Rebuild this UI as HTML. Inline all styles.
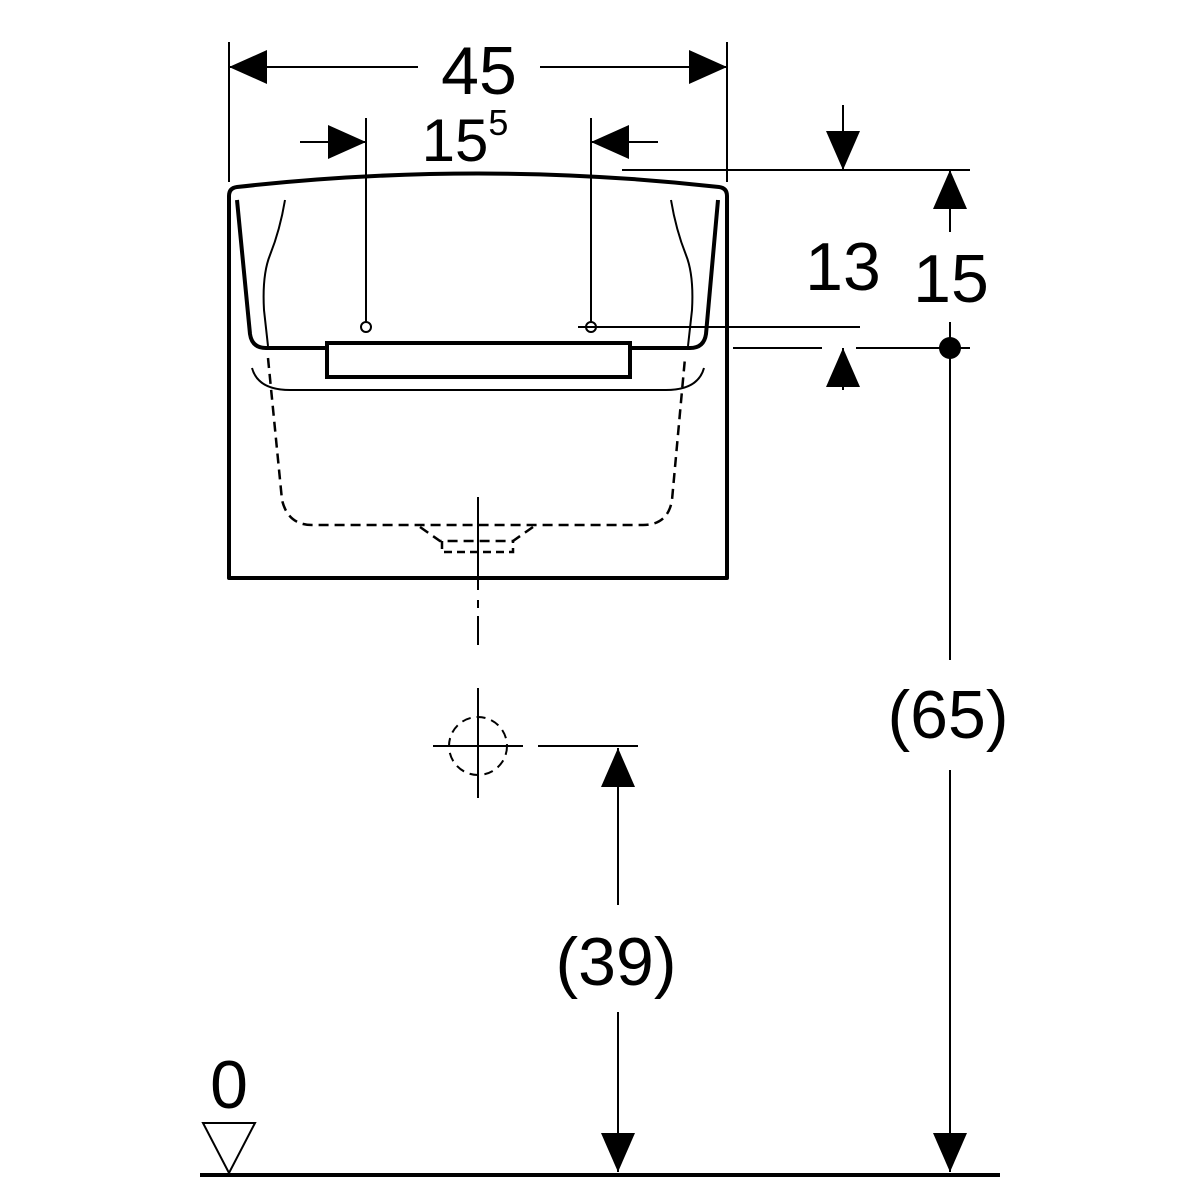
<!DOCTYPE html>
<html><head><meta charset="utf-8"><style>
html,body{margin:0;padding:0;background:#fff;}
svg{display:block;}
text{font-family:"Liberation Sans",sans-serif;fill:#000;}
</style></head><body>
<svg width="1200" height="1200" viewBox="0 0 1200 1200" xmlns="http://www.w3.org/2000/svg">
<g stroke="#000" fill="none" stroke-linecap="butt">
<!-- outer box -->
<path d="M229,578 L229,196 Q229,188 237,187 Q478,160 719,187 Q727,188 727,196 L727,578 Z" stroke-width="4" stroke-linejoin="round"/>
<!-- inner rim -->
<path d="M237,200 L250,334 Q252,348 266,348 L327,348" stroke-width="4"/>
<path d="M630,348 L690,348 Q704,348 706,334 L718,200" stroke-width="4"/>
<rect x="327" y="343" width="303" height="34" stroke-width="4"/>
<!-- thin curves -->
<path d="M285,200 Q280,230 270,255 Q262,275 264,310 L268,346" stroke-width="2"/>
<path d="M671,200 Q676,230 686,255 Q694,275 692,310 L688,346" stroke-width="2"/>
<path d="M252,368 Q258,390 290,390 L666,390 Q698,390 704,368" stroke-width="2"/>
<!-- dashed bowl -->
<path d="M268,358 L282,500 Q288,525 312,525 L643,525 Q668,525 672,500 L685,358" stroke-width="2.5" stroke-dasharray="10,6"/>
<path d="M420,527 L440,541 L513,541 L533,527" stroke-width="2.5" stroke-dasharray="10,6"/>
<path d="M442,541 L442,552 L513,552 L513,541" stroke-width="2.5" stroke-dasharray="8,5"/>
<!-- center line -->
<line x1="478" y1="497" x2="478" y2="590" stroke-width="2"/>
<line x1="478" y1="600" x2="478" y2="608" stroke-width="2"/>
<line x1="478" y1="616" x2="478" y2="645" stroke-width="2"/>
<line x1="478" y1="688" x2="478" y2="798" stroke-width="2"/>
<line x1="433" y1="746" x2="523" y2="746" stroke-width="2"/>
<circle cx="478" cy="746" r="29" stroke-width="2" stroke-dasharray="9,6"/>
<!-- holes -->
<circle cx="366" cy="327" r="5" stroke-width="2"/>
<circle cx="591" cy="327" r="5" stroke-width="2"/>
<line x1="366" y1="118" x2="366" y2="322" stroke-width="2"/>
<line x1="591" y1="118" x2="591" y2="322" stroke-width="2"/>
<!-- extension lines -->
<line x1="229" y1="42" x2="229" y2="182" stroke-width="2"/>
<line x1="727" y1="42" x2="727" y2="182" stroke-width="2"/>
<line x1="578" y1="327" x2="860" y2="327" stroke-width="2"/>
<line x1="733" y1="348" x2="822" y2="348" stroke-width="2"/>
<line x1="856" y1="348" x2="970" y2="348" stroke-width="2"/>
<line x1="622" y1="170" x2="970" y2="170" stroke-width="2"/>
<line x1="538" y1="746" x2="638" y2="746" stroke-width="2"/>
<!-- 45 dim -->
<line x1="229" y1="67" x2="418" y2="67" stroke-width="2"/>
<line x1="540" y1="67" x2="727" y2="67" stroke-width="2"/>
<!-- 15.5 -->
<line x1="300" y1="142" x2="366" y2="142" stroke-width="2"/>
<line x1="591" y1="142" x2="658" y2="142" stroke-width="2"/>
<!-- 13 -->
<line x1="843" y1="105" x2="843" y2="170" stroke-width="2"/>
<line x1="843" y1="348" x2="843" y2="390" stroke-width="2"/>
<!-- 15 / 65 -->
<line x1="950" y1="170" x2="950" y2="232" stroke-width="2"/>
<line x1="950" y1="322" x2="950" y2="660" stroke-width="2"/>
<line x1="950" y1="770" x2="950" y2="1172" stroke-width="2"/>
<!-- 39 -->
<line x1="618" y1="748" x2="618" y2="905" stroke-width="2"/>
<line x1="618" y1="1012" x2="618" y2="1172" stroke-width="2"/>
<!-- ground -->
<line x1="200" y1="1175" x2="1000" y2="1175" stroke-width="4"/>
<path d="M203,1123 L255,1123 L229,1173 Z" stroke-width="2" stroke-linejoin="miter"/>
</g>
<g fill="#000">
<polygon points="229,67 267,50 267,84"/>
<polygon points="727,67 689,50 689,84"/>
<polygon points="366,142 328,125 328,159"/>
<polygon points="591,142 629,125 629,159"/>
<polygon points="843,170 826,131 860,131"/>
<polygon points="843,348 826,387 860,387"/>
<polygon points="950,170 933,209 967,209"/>
<polygon points="950,1172 933,1133 967,1133"/>
<polygon points="618,748 601,787 635,787"/>
<polygon points="618,1172 601,1133 635,1133"/>
<circle cx="950" cy="348" r="11"/>
</g>
<g font-size="68" text-anchor="middle">
<text x="479" y="94">45</text>
<text x="465" y="161" font-size="60">15<tspan font-size="36" dy="-26">5</tspan></text>
<text x="843" y="290">13</text>
<text x="951" y="302">15</text>
<text x="948" y="738">(65)</text>
<text x="616" y="985">(39)</text>
<text x="229" y="1108">0</text>
</g>
</svg>
</body></html>
